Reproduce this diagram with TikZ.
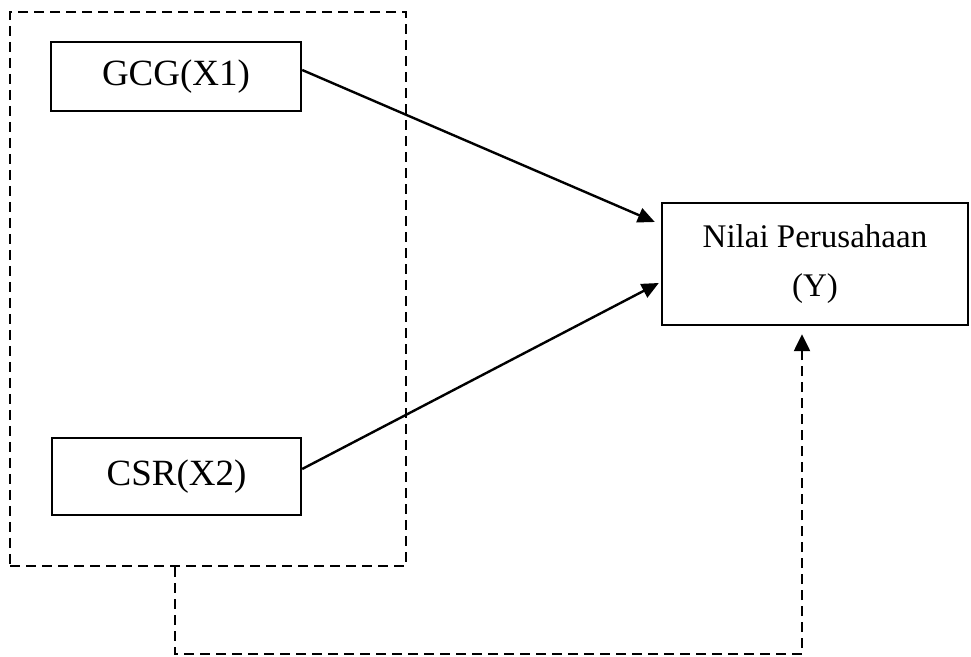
\documentclass[tikz,border=0pt]{standalone}
\usepackage{fontspec}
\setmainfont{Liberation Serif}
\usetikzlibrary{arrows.meta}
\begin{document}
\begin{tikzpicture}[x=0.5pt,y=-0.5pt,
  varbox/.style={draw,line width=1.2pt,inner sep=0pt,font=\fontsize{18.5}{24.5}\selectfont,align=center},
  groupbox/.style={draw,line width=1.1pt,dash pattern=on 5pt off 3pt,inner sep=0pt},
  link/.style={line width=1.2pt,-{Triangle[length=8.5pt,width=7.5pt]}},
  dashlink/.style={line width=1.2pt,dash pattern=on 5pt off 3pt,-{Triangle[length=8.5pt,width=8pt]}}]
\useasboundingbox (0,0) rectangle (971,657);
\node[groupbox,minimum width=198pt,minimum height=277pt] (grp) at (208,289) {};
\node[varbox,minimum width=125pt,minimum height=34.5pt] (gcg) at (176,76.5) {GCG(X1)};
\node[varbox,minimum width=124.5pt,minimum height=38.5pt] (csr) at (176.5,476.5) {CSR(X2)};
\node[varbox,font=\fontsize{16.5}{24.5}\selectfont,minimum width=153pt,minimum height=61pt] (nilai) at (815,264) {Nilai Perusahaan\\(Y)};
\draw[link] ([yshift=3.25pt]gcg.east) -- ([xshift=-3pt,yshift=21pt]nilai.west);
\draw[link] ([yshift=3.75pt]csr.east) -- ([xshift=-1pt,yshift=-9.5pt]nilai.west);
\coordinate (dstart) at ([xshift=-16.5pt]grp.south);
\coordinate (dend) at ([xshift=-6.5pt]nilai.south);
\draw[dashlink,shorten >=4pt] (dstart) -- ++(0,87) -| (dend);
\end{tikzpicture}
\end{document}
